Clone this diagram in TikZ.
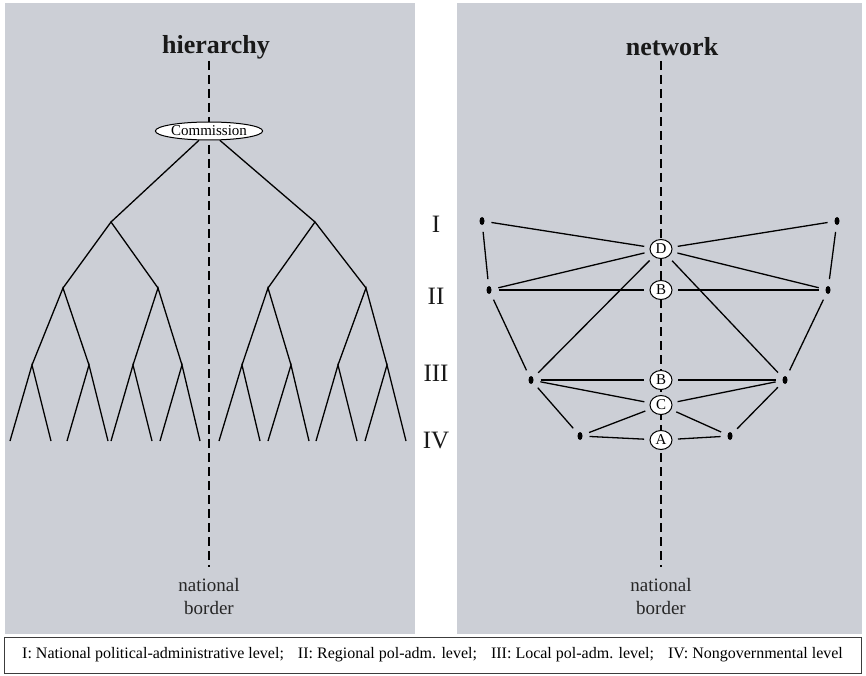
\documentclass[tikz,border=0pt]{standalone}
\usepackage{fontspec}
\setmainfont{Liberation Serif}
\usetikzlibrary{shapes.geometric}
\definecolor{panelgray}{RGB}{204,207,214}
\definecolor{boxedge}{RGB}{60,60,60}
\tikzset{
  panel/.style={fill=panelgray, draw=none},
  border/.style={line width=2pt, dash pattern=on 9pt off 5pt, black},
  branch/.style={line width=1.3pt, black},
  link/.style={line width=1.3pt, black},
  title/.style={font=\fontsize{26}{30}\selectfont\bfseries, text=black!90},
  level/.style={font=\fontsize{25}{28}\selectfont, text=black!90},
  caption/.style={font=\fontsize{19}{23}\selectfont, align=center, text=black!85},
  actor/.style={ellipse, draw, line width=1pt, fill=white, minimum width=22pt, minimum height=19pt, inner sep=0pt, outer sep=6pt, font=\fontsize{15}{15}\selectfont},
  dot/.style={ellipse, fill=black, minimum width=5pt, minimum height=8pt, inner sep=0pt, outer sep=7pt},
  comm/.style={ellipse, draw, line width=1pt, fill=white, minimum width=100pt, minimum height=18pt, inner sep=0pt, font=\fontsize{15}{15}\selectfont}
}
\newcommand{\legsep}{;\hspace{14pt}}
\begin{document}
\begin{tikzpicture}[x=1pt,y=-1pt]
\useasboundingbox (0,0) rectangle (866,676);
% panels
\fill[panel] (5,3) rectangle (415,634);
\fill[panel] (457,3) rectangle (862,634);
% legend
\node[draw=boxedge, line width=1pt, fill=white, minimum width=857pt, minimum height=36pt, inner sep=0pt, font=\fontsize{16}{18}\selectfont] (legend) at (432.5,655)
 {I: National political-administrative level\legsep II: Regional pol-adm. level\legsep III: Local pol-adm. level\legsep IV: Nongovernmental level};
% titles
\node[title] (th) at (216,47) {hierarchy};
\node[title] (tn) at (672,47) {network};
% dashed borders
\coordinate (lt) at (209,61); \coordinate (lb) at (209,567);
\coordinate (rt) at (661,61); \coordinate (rb) at (661,567);
\draw[border] (lt) -- (lb);
\draw[border] (rt) -- (rb);
\node[caption] (lcap) at (209,596) {national\\border};
\node[caption] (rcap) at (661,596) {national\\border};
% level numerals
\node[level] (lI) at (436,224) {I};
\node[level] (lII) at (436,296) {II};
\node[level] (lIII) at (436,373) {III};
\node[level] (lIV) at (436,441) {IV};
% hierarchy tree
\node[comm] (com) at (209,131) {Commission};
\coordinate (a) at (111,222); \coordinate (b) at (315,222);
\coordinate (aa) at (63,288); \coordinate (ab) at (158,288);
\coordinate (ba) at (268,288); \coordinate (bb) at (366,288);
\coordinate (aaa) at (32,365); \coordinate (aab) at (89,365);
\coordinate (aba) at (133,365); \coordinate (abb) at (182,365);
\coordinate (baa) at (242,365); \coordinate (bab) at (291,365);
\coordinate (bba) at (338,365); \coordinate (bbb) at (387,365);
\foreach \n/\x in {1/10,2/51,3/67,4/108,5/111,6/152,7/160,8/200,9/219,10/260,11/268,12/309,13/316,14/357,15/365,16/406}
  \coordinate (f\n) at (\x,441);
\draw[branch] (com) -- (a); \draw[branch] (com) -- (b);
\draw[branch] (aa) -- (a) -- (ab);
\draw[branch] (ba) -- (b) -- (bb);
\draw[branch] (aaa) -- (aa) -- (aab);
\draw[branch] (aba) -- (ab) -- (abb);
\draw[branch] (baa) -- (ba) -- (bab);
\draw[branch] (bba) -- (bb) -- (bbb);
\draw[branch] (f1) -- (aaa) -- (f2);
\draw[branch] (f3) -- (aab) -- (f4);
\draw[branch] (f5) -- (aba) -- (f6);
\draw[branch] (f7) -- (abb) -- (f8);
\draw[branch] (f9) -- (baa) -- (f10);
\draw[branch] (f11) -- (bab) -- (f12);
\draw[branch] (f13) -- (bba) -- (f14);
\draw[branch] (f15) -- (bbb) -- (f16);
% network
\node[actor] (D) at (661,249) {D};
\node[actor] (B2) at (661,290) {B};
\node[actor] (B3) at (661,380) {B};
\node[actor] (C) at (661,405) {C};
\node[actor] (A) at (661,440) {A};
\node[dot] (TL) at (482,221) {};
\node[dot] (TR) at (837,221) {};
\node[dot] (IIL) at (489,290) {};
\node[dot] (IIR) at (828,290) {};
\node[dot] (IIIL) at (531,380) {};
\node[dot] (IIIR) at (785,380) {};
\node[dot] (IVL) at (580,436) {};
\node[dot] (IVR) at (730,436) {};
\foreach \s/\t in {TL/D,TR/D,TL/IIL,TR/IIR,IIL/D,IIL/B2,IIR/D,IIR/B2,D/IIIL,D/IIIR,IIL/IIIL,IIR/IIIR,IIIL/B3,IIIL/C,IIIR/B3,IIIR/C,IIIL/IVL,IIIR/IVR,IVL/C,IVL/A,IVR/C,IVR/A}
  \draw[link] (\s) -- (\t);
\end{tikzpicture}
\end{document}
